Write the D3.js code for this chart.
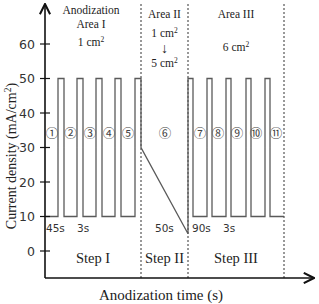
<!DOCTYPE html>
<html lang="en">
<head>
<meta charset="UTF-8">
<title>Anodization current profile</title>
<script src="https://cdn.jsdelivr.net/npm/d3@7"></script>
<style>
    body { margin: 0; background: #fff; }
    svg text.serif { font-family: "Liberation Serif", "Times New Roman", serif; fill: #222; }
    svg text.sans { font-family: "DejaVu Sans", sans-serif; fill: #333; }
    svg text.circ { font-family: "Noto Sans CJK JP", "DejaVu Sans", sans-serif; fill: #444; }
</style>
</head>
<body>
<svg id="chart" width="319" height="304"></svg>
<script>
    // schematic time units (not to scale), current in mA/cm2
    var stepBounds = [0, 96, 143, 239];
    var stepNames = ["Step I", "Step II", "Step III"];
    var yTicks = [0, 10, 20, 30, 40, 50, 60];

    var lowCurrent = 10, highCurrent = 50;
    var step1Pulses = [13, 32, 51, 70, 90];   // pulse starts, width 6
    var step3Pulses = [143, 162, 181, 201, 220]; // pulse starts, width 5
    var rampStart = 30, rampEnd = 5;

    var circleLabels = ["①", "②", "③", "④", "⑤", "⑥", "⑦", "⑧", "⑨", "⑩", "⑪"];
    var circleT = [7, 25.5, 45, 64, 83, 120, 155, 173, 192, 211, 231];
    var circleI = 34;

    var durLabels = ["45s", "3s", "50s", "90s", "3s"];
    var durT = [1, 32, 110, 147, 178];

    var svg = d3.select("#chart");
    var x = d3.scaleLinear().domain([0, 268]).range([45, 313]);
    var y = d3.scaleLinear().domain([0, 60]).range([251, 44]);
    var axisY = 278;

    // waveform points
    var pts = [[1, lowCurrent]];
    step1Pulses.forEach(function (t, i) {
        pts.push([t, lowCurrent], [t, highCurrent], [t + 6, highCurrent]);
        if (i < step1Pulses.length - 1) pts.push([t + 6, lowCurrent]);
    });
    pts.push([stepBounds[1], rampStart], [stepBounds[2], rampEnd]);
    step3Pulses.forEach(function (t) {
        pts.push([t, pts[pts.length - 1][1]], [t, highCurrent], [t + 5, highCurrent], [t + 5, lowCurrent]);
    });
    pts.push([stepBounds[3], lowCurrent]);

    // dashed separators
    svg.selectAll("line.sep").data(stepBounds.slice(1)).enter().append("line")
        .attr("x1", function (d) { return x(d); }).attr("x2", function (d) { return x(d); })
        .attr("y1", 4).attr("y2", axisY)
        .attr("stroke", "#333").attr("stroke-width", 1).attr("stroke-dasharray", "2,2");

    svg.append("path")
        .attr("d", d3.line().x(function (d) { return x(d[0]); }).y(function (d) { return y(d[1]); })(pts))
        .attr("fill", "none").attr("stroke", "#5a5a5a").attr("stroke-width", 1.3);

    // axes with arrows
    svg.append("defs").append("marker").attr("id", "arr")
        .attr("viewBox", "0 0 10 10").attr("refX", 9).attr("refY", 5)
        .attr("markerWidth", 8).attr("markerHeight", 8).attr("orient", "auto")
        .append("path").attr("d", "M1,1 L9,5 L1,9").attr("fill", "none").attr("stroke", "#111").attr("stroke-width", 1.6);

    svg.append("line").attr("x1", x(0)).attr("x2", x(0)).attr("y1", axisY).attr("y2", 4)
        .attr("stroke", "#111").attr("stroke-width", 1.6).attr("marker-end", "url(#arr)");
    svg.append("line").attr("x1", x(0)).attr("x2", 314).attr("y1", axisY).attr("y2", axisY)
        .attr("stroke", "#111").attr("stroke-width", 1.6).attr("marker-end", "url(#arr)");

    var tk = svg.selectAll("g.tick").data(yTicks).enter().append("g")
        .attr("transform", function (d) { return "translate(" + x(0) + "," + y(d) + ")"; });
    tk.append("line").attr("x1", -5).attr("x2", 5).attr("stroke", "#111").attr("stroke-width", 1.2);
    tk.append("text").attr("class", "sans").attr("x", -10).attr("dy", "0.36em")
        .attr("text-anchor", "end").style("font-size", "12.5px").text(function (d) { return d; });

    // circled numbers
    svg.selectAll("text.circ").data(circleLabels).enter().append("text")
        .attr("class", "circ").attr("text-anchor", "middle").attr("dy", "0.36em")
        .attr("x", function (d, i) { return x(circleT[i]); }).attr("y", y(circleI))
        .style("font-size", "12.5px").text(function (d) { return d; });

    svg.selectAll("text.dur").data(durLabels).enter().append("text")
        .attr("class", "sans").attr("x", function (d, i) { return x(durT[i]); }).attr("y", 232)
        .style("font-size", "10.5px").text(function (d) { return d; });

    svg.selectAll("text.step").data(stepNames).enter().append("text")
        .attr("class", "serif").attr("text-anchor", "middle").attr("y", 263)
        .attr("x", function (d, i) { return (x(stepBounds[i]) + x(stepBounds[i + 1])) / 2; })
        .style("font-size", "14.5px").text(function (d) { return d; });

    // area annotations
    function note(cx, yy, txt, sup, size) {
        var t = svg.append("text").attr("class", "serif").attr("text-anchor", "middle")
            .attr("x", cx).attr("y", yy).style("font-size", size || "11.5px").text(txt);
        if (sup) t.append("tspan").attr("dy", -4).style("font-size", "7.5px").text(sup);
    }
    var c1 = (x(stepBounds[0]) + x(stepBounds[1])) / 2 - 2;
    var c2 = (x(stepBounds[1]) + x(stepBounds[2])) / 2;
    var c3 = (x(stepBounds[2]) + x(stepBounds[3])) / 2;
    note(c1, 14, "Anodization");
    note(c1, 28, "Area I");
    note(c1, 46, "1 cm", "2");
    note(c2, 18, "Area II");
    note(c2, 37, "1 cm", "2");
    note(c2, 53, "↓", null, "14px");
    note(c2, 67, "5 cm", "2");
    note(c3, 18, "Area III");
    note(c3, 51, "6 cm", "2");

    // axis titles
    var yl = svg.append("text").attr("class", "serif").attr("text-anchor", "middle")
        .attr("transform", "translate(16,156) rotate(-90)").style("font-size", "14px")
        .text("Current density (mA/cm");
    yl.append("tspan").attr("dy", -5).style("font-size", "9.5px").text("2");
    yl.append("tspan").attr("dy", 5).text(")");
    svg.append("text").attr("class", "serif").attr("text-anchor", "middle")
        .attr("x", 161).attr("y", 300).style("font-size", "15px").text("Anodization time (s)");
</script>
</body>
</html>
